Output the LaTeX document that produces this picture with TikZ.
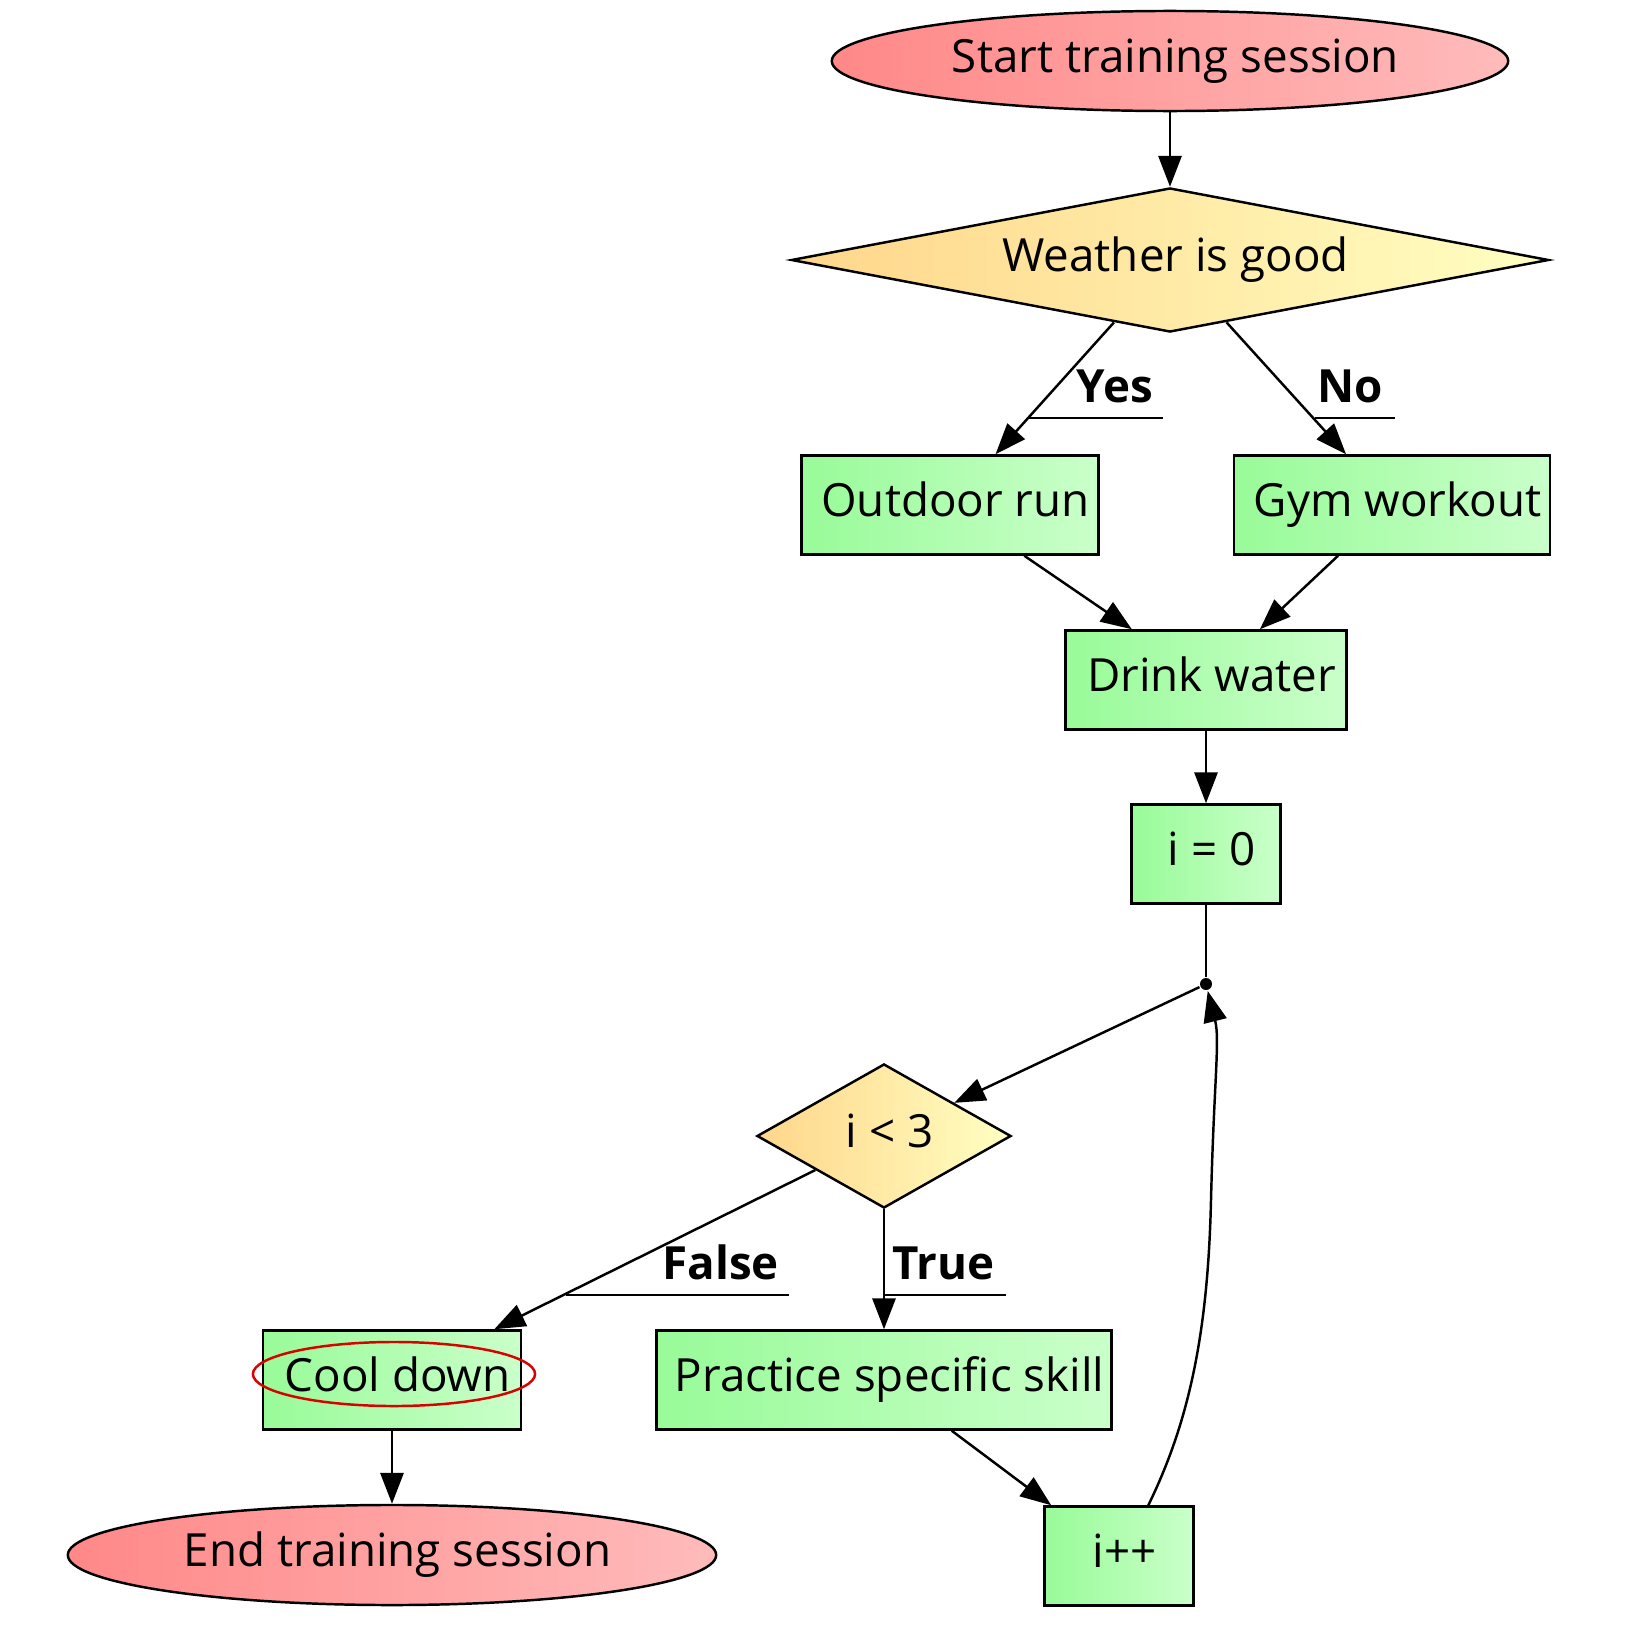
\documentclass[tikz,border=0pt]{standalone}
\usepackage{fontspec}
\setmainfont{Open Sans}
\usetikzlibrary{shapes.geometric,arrows.meta}

\definecolor{gbeg}{HTML}{98FB98}
\definecolor{gend}{HTML}{CAFFCA}
\definecolor{rbeg}{HTML}{FF8888}
\definecolor{rend}{HTML}{FFBBBB}
\definecolor{ybeg}{HTML}{FFD68A}
\definecolor{yend}{HTML}{FFFFC2}

\tikzset{
  txt/.style={inner sep=0pt, text height=0.85em, text depth=0.2em,
    execute at begin node=\hspace*{0.11cm}},
  box/.style={txt, draw, rectangle, minimum height=0.99cm,
    left color=gbeg, right color=gend},
  term/.style={txt, draw, ellipse, minimum height=1cm,
    left color=rbeg, right color=rend},
  test/.style={txt, draw, diamond, minimum height=1.44cm,
    left color=ybeg, right color=yend},
  dot/.style={circle, fill, inner sep=0pt, minimum size=0.12cm},
  arr/.style={-{Triangle[length=8.8pt,width=6.6pt]}},
  lbl/.style={font=\fontsize{13}{15}\selectfont\bfseries, anchor=base east, inner sep=0pt},
}

\begin{document}
\begin{tikzpicture}[x=0.01cm, y=-0.01cm, line width=0.7pt,
    font=\fontsize{13}{15}\selectfont]
  \useasboundingbox (0,0) rectangle (1633,1633);

  % nodes
  \node[term, minimum width=6.76cm] (start) at (1170,61) {Start training session};
  \node[test, aspect=5.26, minimum width=7.57cm] (weather) at (1170,260) {Weather is good};
  \node[box, minimum width=2.97cm] (run) at (950,505) {Outdoor run};
  \node[box, minimum width=3.16cm] (gym) at (1392,505) {Gym workout};
  \node[box, minimum width=2.81cm] (water) at (1206,680) {Drink water};
  \node[box, minimum width=1.49cm] (init) at (1206,854) {i = 0};
  \node[dot] (jn) at (1206,984) {};
  \node[test, aspect=1.76, minimum width=2.54cm] (cond) at (884,1136) {i < 3};
  \node[box, minimum width=2.58cm] (cool) at (392,1380) {Cool down};
  \node[box, minimum width=4.55cm] (skill) at (884,1380) {Practice specific skill};
  \node[box, minimum width=1.49cm] (incr) at (1119,1556) {i++};
  \node[term, minimum width=6.48cm] (end) at (392,1555) {End training session};
  \node[draw=red!85!black, ellipse, inner sep=0pt, minimum width=2.82cm,
    minimum height=0.64cm] (mark) at (394,1374) {};

  % edges
  \draw[arr] (start) -- (weather);
  \draw[arr] (weather) -- (run);
  \draw[arr] (weather) -- (gym);
  \draw[arr] (run) -- (water);
  \draw[arr] (gym) -- (water);
  \draw[arr] (water) -- (init);
  \draw (init) -- (jn);
  \draw[arr] (jn) -- (cond);
  \draw[arr] (cond) -- (cool);
  \draw[arr] (cond) -- (skill);
  \draw[arr] (cool) -- (end);
  \draw[arr] (skill) -- (incr);
  \draw[arr] (incr.60) .. controls (1190,1420) and (1208,1330) .. (1211,1200)
    .. controls (1214,1080) and (1220,1040) .. (jn);

  % edge labels
  \coordinate (yes) at (1029,418);
  \draw (yes) -- (1163,418);
  \node[lbl] (yeslbl) at (1154,402) {Yes};
  \coordinate (no) at (1315,418);
  \draw (no) -- (1395,418);
  \node[lbl] (nolbl) at (1384,402) {No};
  \coordinate (false) at (566,1295);
  \draw (false) -- (789,1295);
  \node[lbl] (falselbl) at (780,1279) {False};
  \coordinate (true) at (884,1295);
  \draw (true) -- (1006,1295);
  \node[lbl] (truelbl) at (996,1279) {True};
\end{tikzpicture}
\end{document}
